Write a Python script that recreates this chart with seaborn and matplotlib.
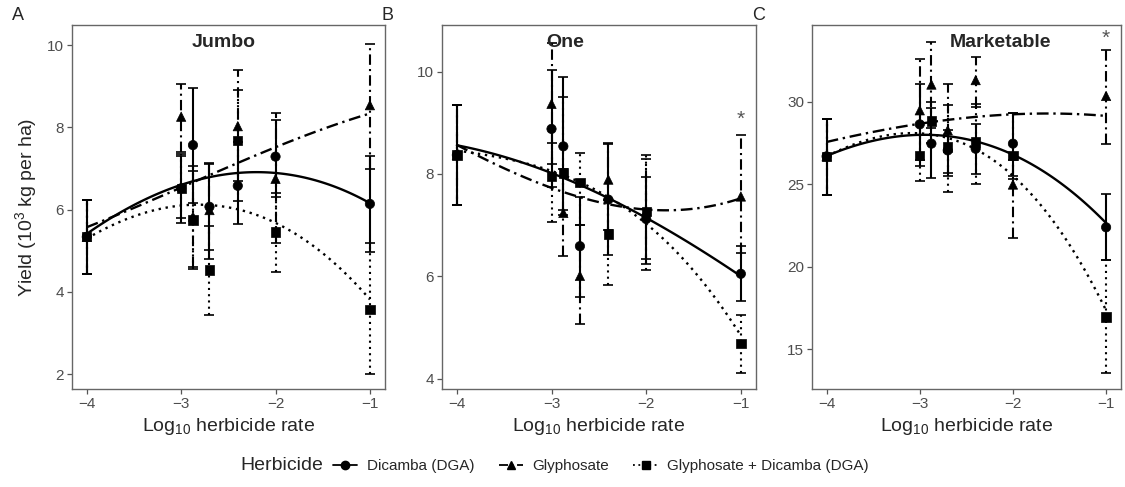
# -*- coding: utf-8 -*-
# Yield response to log10 herbicide rate, three yield grades (Jumbo / One / Marketable)

import matplotlib
matplotlib.use("Agg")
import numpy as np
import pandas as pd
import matplotlib.pyplot as plt
from matplotlib.lines import Line2D
import seaborn as sns

sns.set_theme(style="ticks")
plt.rcParams['font.family'] = ['Liberation Sans', 'DejaVu Sans']
plt.rcParams['mathtext.default'] = 'regular'

"""
数据 (read off the picture)
"""
herbicides = ["Dicamba (DGA)", "Glyphosate", "Glyphosate + Dicamba (DGA)"]
rate = [-4, -3, -2.875, -2.7, -2.4, -2, -1]
fit_rate = [-4, -3.5, -3, -2.5, -2, -1.5, -1]

# A - Jumbo
jumbo_dic = [5.34, 6.52, 7.57, 6.07, 6.58, 7.29, 6.14]
jumbo_dic_lo = [4.44, 5.67, 6.17, 5.02, 5.65, 6.40, 4.98]
jumbo_dic_hi = [6.23, 7.30, 8.97, 7.13, 7.65, 8.18, 7.30]
jumbo_gly = [5.34, 8.26, 5.83, 5.99, 8.03, 6.75, 8.54]
jumbo_gly_lo = [4.44, 7.41, 4.60, 4.80, 6.70, 5.20, 7.00]
jumbo_gly_hi = [6.23, 9.05, 7.05, 7.10, 9.39, 8.36, 10.04]
jumbo_mix = [5.34, 6.52, 5.75, 4.53, 7.68, 5.46, 3.58]
jumbo_mix_lo = [4.44, 5.80, 4.55, 3.44, 6.20, 4.49, 2.00]
jumbo_mix_hi = [6.23, 7.35, 6.95, 5.60, 8.90, 6.30, 5.20]
jumbo_dic_fit = [5.43, 6.07, 6.62, 6.90, 6.88, 6.64, 6.17]
jumbo_gly_fit = [5.57, 6.06, 6.52, 7.04, 7.53, 7.95, 8.34]
jumbo_mix_fit = [5.30, 5.83, 6.10, 6.07, 5.67, 4.94, 3.82]

# B - One
one_dic = [8.37, 8.88, 8.54, 6.59, 7.50, 7.12, 6.05]
one_dic_lo = [7.39, 7.75, 7.20, 5.60, 6.42, 6.33, 5.52]
one_dic_hi = [9.34, 10.03, 9.89, 7.56, 8.59, 7.94, 6.60]
one_gly = [8.37, 9.37, 7.24, 6.01, 7.89, 7.27, 7.56]
one_gly_lo = [7.39, 8.20, 6.39, 5.06, 6.90, 6.25, 6.45]
one_gly_hi = [9.34, 10.55, 8.10, 7.00, 8.60, 8.30, 8.76]
one_mix = [8.37, 7.95, 8.02, 7.83, 6.83, 7.27, 4.69]
one_mix_lo = [7.39, 7.07, 7.30, 7.00, 5.84, 6.12, 4.11]
one_mix_hi = [9.34, 8.60, 9.51, 8.41, 7.50, 8.37, 5.25]
one_dic_fit = [8.57, 8.31, 8.03, 7.63, 7.14, 6.59, 6.01]
one_gly_fit = [8.57, 8.11, 7.72, 7.46, 7.31, 7.31, 7.53]
one_mix_fit = [8.47, 8.28, 8.05, 7.69, 7.04, 6.07, 4.86]

# C - Marketable
mkt_dic = [26.70, 28.64, 27.47, 27.06, 27.16, 27.47, 22.40]
mkt_dic_lo = [24.38, 26.10, 25.38, 25.70, 25.60, 25.50, 20.43]
mkt_dic_hi = [28.99, 31.10, 29.60, 28.30, 28.68, 29.35, 24.43]
mkt_gly = [26.70, 29.49, 31.05, 28.28, 31.32, 24.99, 30.36]
mkt_gly_lo = [24.38, 26.50, 28.40, 25.50, 29.70, 21.75, 27.47]
mkt_gly_hi = [28.99, 32.60, 33.65, 31.07, 32.74, 26.50, 33.14]
mkt_mix = [26.70, 26.76, 28.84, 27.26, 27.57, 26.76, 16.97]
mkt_mix_lo = [24.38, 25.20, 27.50, 24.53, 25.00, 25.30, 13.54]
mkt_mix_hi = [28.99, 28.00, 30.00, 29.80, 29.90, 29.30, 20.40]
mkt_dic_fit = [26.76, 27.57, 27.97, 27.87, 26.80, 25.03, 22.70]
mkt_gly_fit = [27.57, 28.18, 28.68, 29.03, 29.25, 29.29, 29.15]
mkt_mix_fit = [26.76, 27.67, 28.07, 27.57, 25.54, 22.09, 17.43]

panel_titles = ["Jumbo", "One", "Marketable"]
panel_letters = ["A", "B", "C"]
star_y = [None, 9.06, 33.85]   # significance asterisk at rate -1

panels = [
    [(jumbo_dic, jumbo_dic_lo, jumbo_dic_hi, jumbo_dic_fit),
     (jumbo_gly, jumbo_gly_lo, jumbo_gly_hi, jumbo_gly_fit),
     (jumbo_mix, jumbo_mix_lo, jumbo_mix_hi, jumbo_mix_fit)],
    [(one_dic, one_dic_lo, one_dic_hi, one_dic_fit),
     (one_gly, one_gly_lo, one_gly_hi, one_gly_fit),
     (one_mix, one_mix_lo, one_mix_hi, one_mix_fit)],
    [(mkt_dic, mkt_dic_lo, mkt_dic_hi, mkt_dic_fit),
     (mkt_gly, mkt_gly_lo, mkt_gly_hi, mkt_gly_fit),
     (mkt_mix, mkt_mix_lo, mkt_mix_hi, mkt_mix_fit)],
]

"""
样式
"""
markers = {herbicides[0]: "o", herbicides[1]: "^", herbicides[2]: "s"}
styles = {herbicides[0]: "-",
          herbicides[1]: (0, (5, 2, 1, 2)),
          herbicides[2]: (0, (1, 2))}

ylims = [(1.64, 10.49), (3.80, 10.91), (12.6, 34.66)]
yticks = [[2, 4, 6, 8, 10], [4, 6, 8, 10], [15, 20, 25, 30]]
title_x = [0.486, 0.392, 0.611]

W, H = 1125, 487
boxes = [(71.7, 385), (441.7, 756), (811.7, 1121)]
top_px, bot_px = 25, 389

fig = plt.figure(figsize=(W / 100, H / 100), dpi=100)

for i, (left, right) in enumerate(boxes):
    ax = fig.add_axes([left / W, 1 - bot_px / H, (right - left) / W, (bot_px - top_px) / H])

    for h, (mean, lo, hi, fit) in zip(herbicides, panels[i]):
        mean = np.array(mean)
        err = [mean - np.array(lo), np.array(hi) - mean]
        eb = ax.errorbar(rate, mean, yerr=err, fmt="none", ecolor="black",
                         elinewidth=1.5, capsize=3.5, capthick=1.2, zorder=2)
        eb[2][0].set_linestyle(styles[h])

        # fitted curve
        sns.regplot(x=fit_rate, y=fit, order=3, scatter=False, ci=None, ax=ax,
                    color="black", truncate=True,
                    line_kws=dict(ls=styles[h], lw=1.7, zorder=3))

    df = pd.DataFrame({
        "rate": rate * 3,
        "yield": [v for p in panels[i] for v in p[0]],
        "herbicide": [h for h in herbicides for _ in rate],
    })
    sns.scatterplot(data=df, x="rate", y="yield", style="herbicide",
                    markers=markers, color="black", edgecolor="black",
                    s=45, linewidth=0.5, legend=False, ax=ax, zorder=4)

    ax.set_xlim(-4.16, -0.84)
    ax.set_ylim(*ylims[i])
    ax.set_xticks([-4, -3, -2, -1])
    ax.set_yticks(yticks[i])
    ax.set_xlabel("Log$_{10}$ herbicide rate", fontsize=14, labelpad=4)
    if i == 0:
        ax.set_ylabel("Yield (10$^3$ kg per ha)", fontsize=14, labelpad=6)
    else:
        ax.set_ylabel("")
    ax.tick_params(direction="out", length=3.5, width=0.9, color="#555555",
                   labelcolor="#4d4d4d", labelsize=11, pad=2)
    for s in ax.spines.values():
        s.set_color("#666666")
        s.set_linewidth(1.0)

    ax.text(title_x[i], 0.953, panel_titles[i], transform=ax.transAxes,
            ha="center", va="center", fontsize=14, fontweight="bold")
    if star_y[i] is not None:
        ax.text(-1, star_y[i], "*", ha="center", va="center",
                fontsize=15, color="#555555")

    fig.text((left - 60) / W, 1 - 15 / H, panel_letters[i],
             fontsize=13, va="center", ha="left")

# 图例
handles = [Line2D([], [], color="black", ls=styles[h], marker=markers[h],
                  ms=6, lw=1.3) for h in herbicides]
fig.text(240 / W, 1 - 466 / H, "Herbicide", fontsize=14, va="center")
fig.legend(handles, herbicides, loc="center left",
           bbox_to_anchor=(333 / W, 1 - 466 / H), ncol=3, frameon=False,
           fontsize=11, handlelength=1.6, handletextpad=0.6,
           columnspacing=1.6, borderaxespad=0, borderpad=0.0)

fig.savefig("out.png", dpi=100)
